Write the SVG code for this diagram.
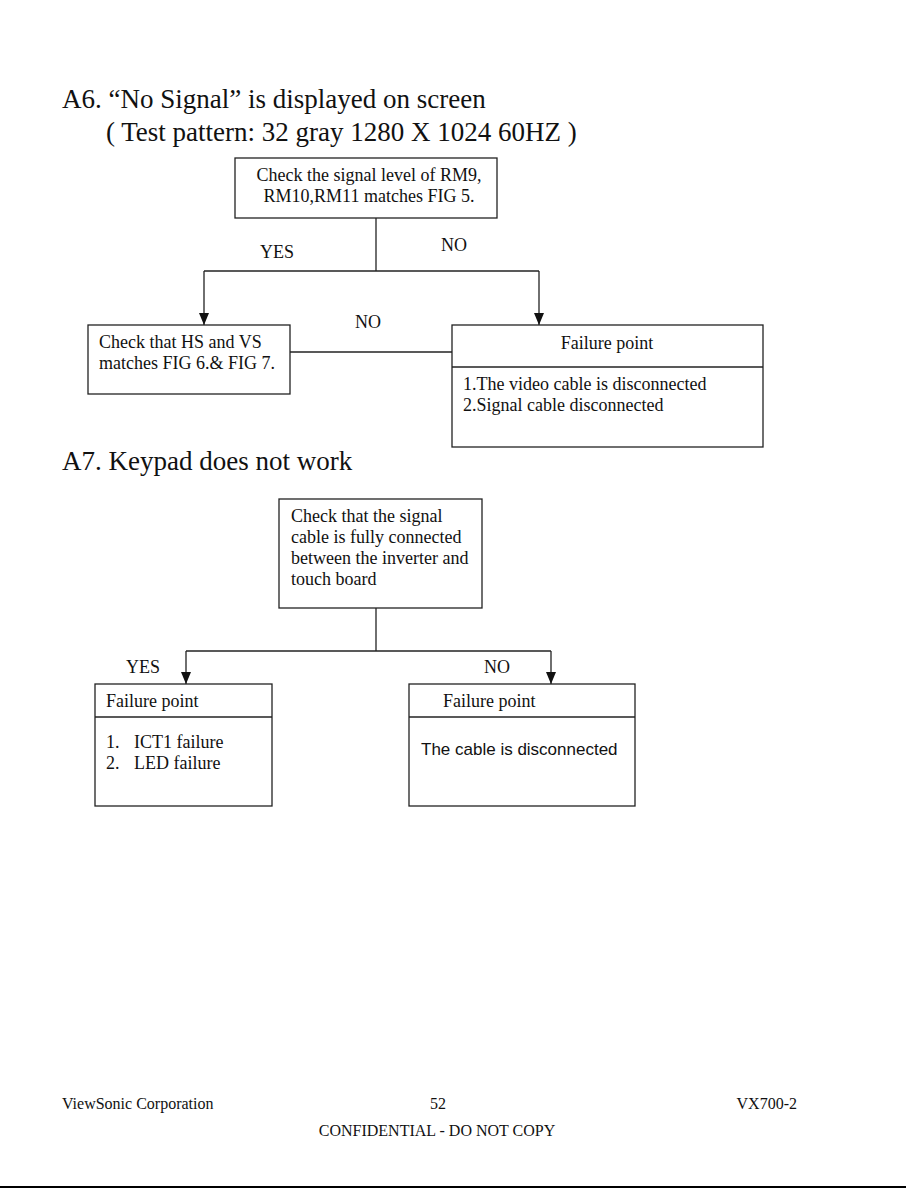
<svg xmlns="http://www.w3.org/2000/svg" width="918" height="1188" viewBox="0 0 918 1188">
<style>
.t{font-family:"Liberation Serif","Times New Roman",serif;fill:#111}
.h{font-size:27px}
.n{font-size:18px}
.f{font-size:16px}
.s{font-family:"Liberation Sans",Arial,sans-serif;font-size:17px;fill:#111}
.b{fill:#fff;stroke:#222;stroke-width:1.3}
.l{stroke:#222;stroke-width:1.3;fill:none}
</style>
<defs>
<marker id="ad" markerWidth="10" markerHeight="12" refX="5" refY="12" orient="0" markerUnits="userSpaceOnUse" viewBox="0 0 10 12">
<path d="M0,0 L10,0 L5,12 Z" fill="#111"/>
</marker>
</defs>
<rect width="918" height="1188" fill="#fff"/>
<text class="t h" x="62" y="108">A6. “No Signal” is displayed on screen</text>
<text class="t h" x="106" y="141">( Test pattern: 32 gray 1280 X 1024 60HZ )</text>
<text class="t h" x="62" y="470">A7. Keypad does not work</text>

<g id="connectors">
<polyline class="l" points="376,218 376,271"/>
<polyline class="l" points="204,271 539,271"/>
<polyline class="l" points="204,271 204,325" marker-end="url(#ad)"/>
<polyline class="l" points="539,271 539,325" marker-end="url(#ad)"/>
<line class="l" x1="290" y1="352" x2="452" y2="352"/>
<polyline class="l" points="376,608 376,651"/>
<polyline class="l" points="186,651 551,651"/>
<polyline class="l" points="186,651 186,684" marker-end="url(#ad)"/>
<polyline class="l" points="551,651 551,684" marker-end="url(#ad)"/>
<text class="t n" x="260" y="258">YES</text>
<text class="t n" x="441" y="251">NO</text>
<text class="t n" x="355" y="328">NO</text>
<text class="t n" x="126" y="673">YES</text>
<text class="t n" x="484" y="673">NO</text>
</g>

<g id="n1">
<rect class="b" x="235" y="158" width="262" height="60"/>
<text class="t n" x="369" y="181" text-anchor="middle">Check the signal level of RM9,</text>
<text class="t n" x="369" y="202" text-anchor="middle">RM10,RM11 matches FIG 5.</text>
</g>
<g id="n2">
<rect class="b" x="88" y="325" width="202" height="69"/>
<text class="t n" x="99" y="348">Check that HS and VS</text>
<text class="t n" x="99" y="369">matches FIG 6.&amp; FIG 7.</text>
</g>
<g id="n3">
<rect class="b" x="452" y="325" width="311" height="122"/>
<line class="l" x1="452" y1="367" x2="763" y2="367"/>
<text class="t n" x="607" y="349" text-anchor="middle">Failure point</text>
<text class="t n" x="463" y="390">1.The video cable is disconnected</text>
<text class="t n" x="463" y="411">2.Signal cable disconnected</text>
</g>
<g id="n4">
<rect class="b" x="279" y="499" width="203" height="109"/>
<text class="t n" x="291" y="522">Check that the signal</text>
<text class="t n" x="291" y="543">cable is fully connected</text>
<text class="t n" x="291" y="564">between the inverter and</text>
<text class="t n" x="291" y="585">touch board</text>
</g>
<g id="n5">
<rect class="b" x="95" y="684" width="177" height="122"/>
<line class="l" x1="95" y1="717" x2="272" y2="717"/>
<text class="t n" x="106" y="707">Failure point</text>
<text class="t n" x="106" y="748">1.</text>
<text class="t n" x="134" y="748">ICT1 failure</text>
<text class="t n" x="106" y="769">2.</text>
<text class="t n" x="134" y="769">LED failure</text>
</g>
<g id="n6">
<rect class="b" x="409" y="684" width="226" height="122"/>
<line class="l" x1="409" y1="717" x2="635" y2="717"/>
<text class="t n" x="443" y="707">Failure point</text>
<text class="s" x="421" y="755">The cable is disconnected</text>
</g>

<text class="t f" x="62" y="1109">ViewSonic Corporation</text>
<text class="t f" x="430" y="1109">52</text>
<text class="t f" x="797" y="1109" text-anchor="end">VX700-2</text>
<text class="t f" x="437" y="1136" text-anchor="middle">CONFIDENTIAL - DO NOT COPY</text>
<line x1="0" y1="1187" x2="906" y2="1187" stroke="#000" stroke-width="2"/>
</svg>
